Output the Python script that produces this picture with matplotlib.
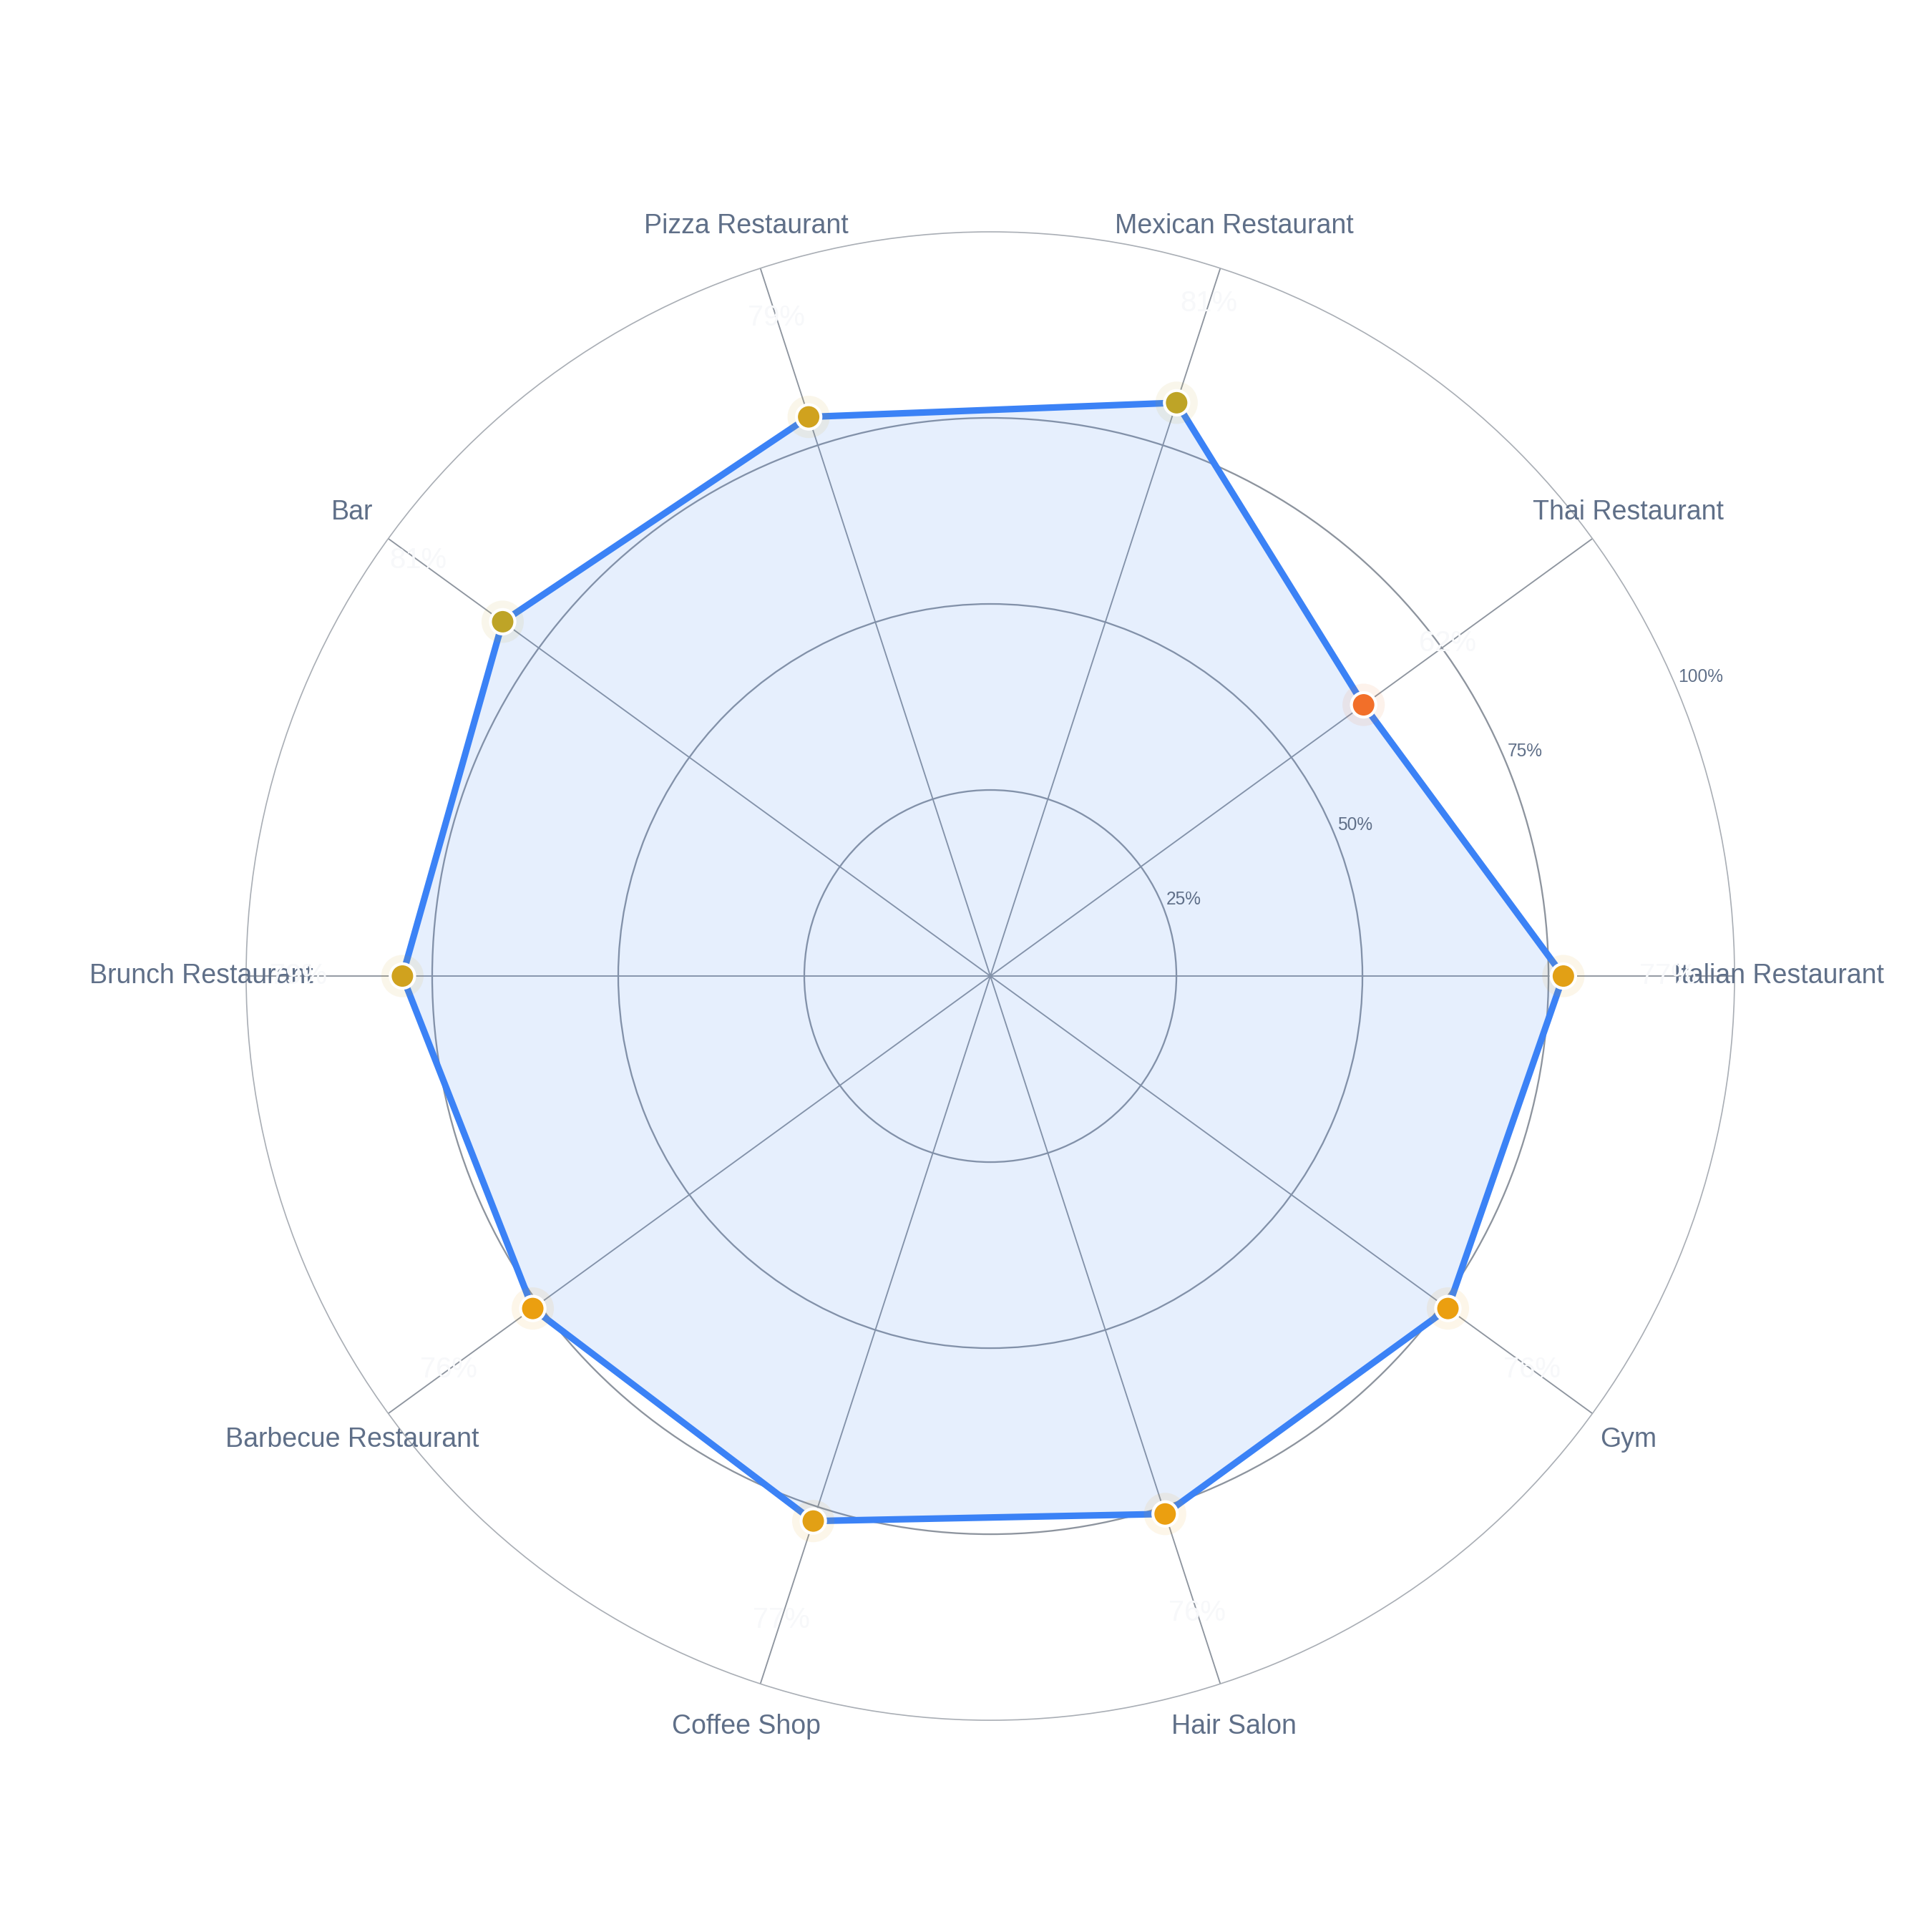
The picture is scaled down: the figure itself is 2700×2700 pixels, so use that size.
import numpy as np
import matplotlib
matplotlib.use("Agg")
import matplotlib.pyplot as plt
from matplotlib.colors import LinearSegmentedColormap, Normalize

# ---- data ----
categories = ["Italian Restaurant", "Thai Restaurant", "Mexican Restaurant",
              "Pizza Restaurant", "Bar", "Brunch Restaurant",
              "Barbecue Restaurant", "Coffee Shop", "Hair Salon", "Gym"]
values = [77, 62, 81, 79, 81, 79, 76, 77, 76, 76]
r_ticks = [25, 50, 75, 100]
r_tick_labels = ["25%", "50%", "75%", "100%"]

plt.rcParams['font.family'] = ['Liberation Sans', 'DejaVu Sans']

LABEL_COLOR = '#5f6f88'
LINE_COLOR = '#3b82f6'

fig = plt.figure(figsize=(9, 9), dpi=300)
fig.patch.set_facecolor('white')
ax = fig.add_axes([0.1274, 0.1096, 0.7704, 0.7704], projection='polar')
ax.set_facecolor('white')

n = len(categories)
theta = np.arange(n) * 2 * np.pi / n
ax.set_ylim(0, 100)
ax.set_xticks(theta)
ax.set_xticklabels([])
ax.set_yticks(r_ticks[:-1])
ax.set_yticklabels([])
ax.tick_params(length=0, pad=0)
ax.grid(True)
for gl in ax.xaxis.get_gridlines():
    gl.set_color('#8e959f')
    gl.set_linewidth(0.45)
for gl in ax.yaxis.get_gridlines():
    gl.set_color('#8d949e')
    gl.set_linewidth(0.55)
ax.spines['polar'].set_color('#a9aeb5')
ax.spines['polar'].set_linewidth(0.4)
ax.set_axisbelow(True)

# colours for markers
cmap = LinearSegmentedColormap.from_list('score', ['#ef4444', '#f59e0b', '#10b981'])
norm = Normalize(50, 100)
mcolors = [cmap(norm(v)) for v in values]

th_closed = np.append(theta, theta[0])
v_closed = np.append(values, values[0])

ax.fill(th_closed, v_closed, color=LINE_COLOR, alpha=0.125, lw=0, zorder=2)
ax.plot(th_closed, v_closed, color=LINE_COLOR, lw=2.2, zorder=3,
        solid_joinstyle='round', solid_capstyle='round')
ax.scatter(theta, values, s=14.2 ** 2, c=mcolors, alpha=0.09, lw=0, zorder=4)
ax.scatter(theta, values, s=8.2 ** 2, c=mcolors, edgecolors='white',
           linewidths=1.0, zorder=5)

# category labels
for t, cat in zip(theta, categories):
    ax.text(t, 106, cat, ha='center', va='center', fontsize=9,
            color=LABEL_COLOR, clip_on=False, zorder=6)

# value labels (white)
for t, v in zip(theta, values):
    ax.text(t, v + 14, f"{v}%", ha='center', va='center', fontsize=9.6,
            color='#f7f8fa', clip_on=False, zorder=7)

# radial tick labels
ang = np.deg2rad(23.5)
for rt, lab in zip(r_ticks, r_tick_labels):
    ax.text(ang, rt + 0.8, lab, ha='left', va='center', fontsize=5.9,
            color=LABEL_COLOR, clip_on=False, zorder=6)

fig.savefig('out.png', dpi=300, facecolor='white')
